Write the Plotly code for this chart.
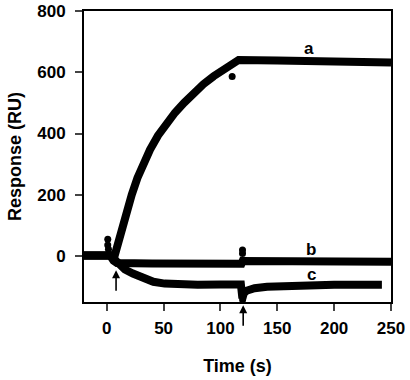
import plotly.graph_objects as go

# ---- data ----
a_time = [-20, 3, 5, 7, 8.5, 10, 12, 15, 18, 22, 27, 32, 38, 45, 53, 60, 68, 76, 85, 94, 103, 110, 116, 150, 200, 250]
a_resp = [2, 2, -4, 2, 22, 44, 73, 114, 151, 200, 255, 302, 347, 393, 435, 468, 500, 531, 561, 587, 610, 626, 640, 638, 635, 632]

b_time = [-20, 3, 6, 9, 40, 80, 118.5, 119.5, 160, 210, 250]
b_resp = [2, 2, -15, -23, -24, -25, -25, -16, -17, -18, -19]

c_time = [-20, 3, 6, 8.5, 12, 16, 23, 31, 41, 51, 61, 80, 100, 118, 119.3, 120.5, 123, 130, 141, 160, 200, 242]
c_resp = [2, 2, -8, -19, -32, -44, -57, -72, -84, -90, -93, -94, -93, -93, -138, -122, -113, -105, -100, -96, -94, -94]

dot_time = [0.9, 0.9, 1.5, 110.3, 119.4, 119.4, 119.5, 119.5]
dot_resp = [55, 36, 22, 586, 20, 8, -128, -143]

label_text = ["a", "b", "c"]
label_time = [178, 180, 180]
label_resp = [676, 22, -60]

arrow_time = [8.2, 120]
arrow_resp = [-46, -161]

x_range = [-20, 250]
y_range = [-150, 800]
x_ticks = [0, 50, 100, 150, 200, 250]
y_ticks = [0, 200, 400, 600, 800]

FONT = "Arial, Liberation Sans, sans-serif"

fig = go.Figure()
for t, r in [(a_time, a_resp), (b_time, b_resp), (c_time, c_resp)]:
    fig.add_trace(go.Scatter(x=t, y=r, mode="lines",
                             line=dict(color="black", width=8),
                             showlegend=False, hoverinfo="skip"))
fig.add_trace(go.Scatter(x=dot_time, y=dot_resp, mode="markers",
                         marker=dict(color="black", size=7),
                         showlegend=False, cliponaxis=False))

for txt, t, r in zip(label_text, label_time, label_resp):
    fig.add_annotation(x=t, y=r, text=txt, showarrow=False,
                       font=dict(family=FONT, size=17, color="black", weight="bold"))

# arrows: y converted to paper fraction so the one below the axis is not hidden
for t, r in zip(arrow_time, arrow_resp):
    yp = (r - y_range[0]) / (y_range[1] - y_range[0])
    fig.add_annotation(x=t, y=yp, xref="x", yref="paper", text="", showarrow=True,
                       ax=0, ay=22, arrowhead=2, arrowsize=1, arrowwidth=1.6,
                       arrowcolor="black")

fig.update_layout(
    width=410, height=380,
    margin=dict(l=84, r=19, t=11, b=78),
    plot_bgcolor="white", paper_bgcolor="white",
    font=dict(family=FONT, size=17, color="black", weight="bold"),
    xaxis=dict(range=x_range, tickvals=x_ticks, ticks="outside", ticklen=7, tickwidth=2,
               showline=True, linewidth=2, linecolor="black", mirror=True, showgrid=False,
               zeroline=False, automargin=False, ticklabelstandoff=3,
               ticklabeloverflow="allow",
               title=dict(text="Time (s)", standoff=22,
                          font=dict(size=18, weight="bold"))),
    yaxis=dict(range=y_range, tickvals=y_ticks, ticks="outside", ticklen=7, tickwidth=2,
               showline=True, linewidth=2, linecolor="black", mirror=True, showgrid=False,
               zeroline=False, automargin=False, ticklabelstandoff=6,
               ticklabeloverflow="allow",
               title=dict(text="Response (RU)", standoff=11,
                          font=dict(size=18, weight="bold"))),
)

fig.write_html("out.html", config={"displayModeBar": False},
               post_script="document.body.style.margin='0px';")
